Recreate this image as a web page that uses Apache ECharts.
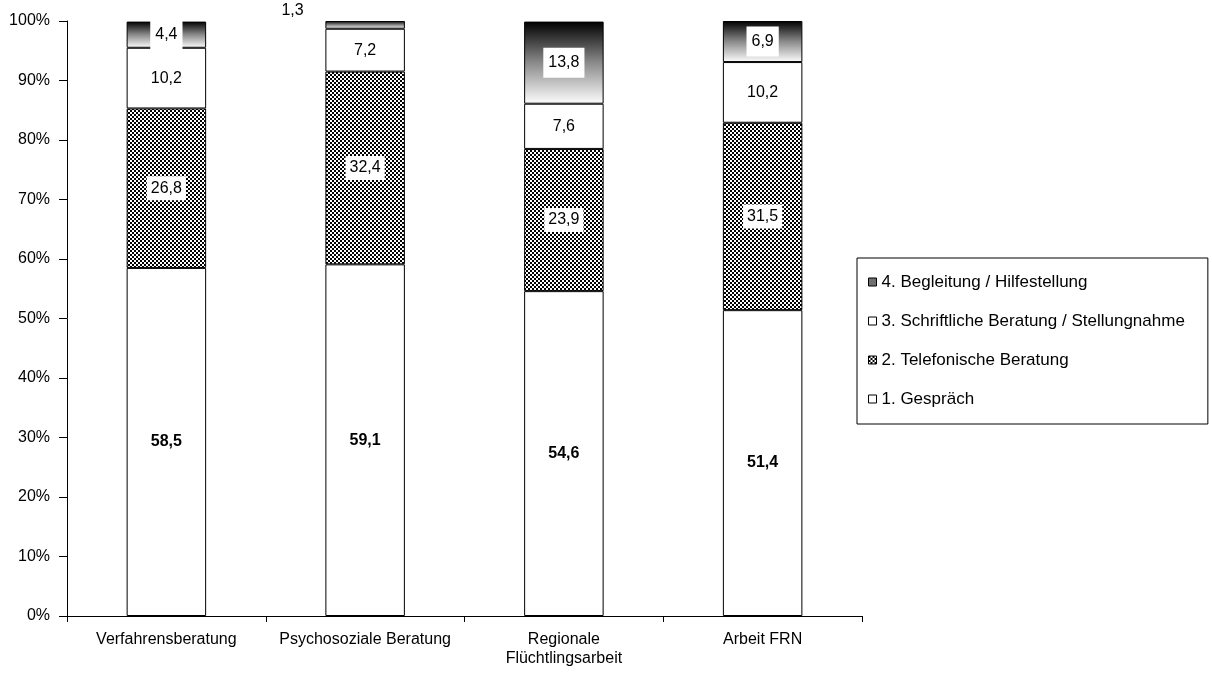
<!DOCTYPE html>
<html>
<head>
<meta charset="utf-8">
<script src="https://cdn.jsdelivr.net/npm/echarts@6/dist/echarts.min.js"></script>
<style>
  html, body { margin: 0; padding: 0; background: #fff; }
  #chart { width: 1212px; height: 673px; }
</style>
</head>
<body>
<div id="chart"></div>
<script>
// Beratungsarten je Arbeitsbereich, Anteile in Prozent
const categories = ['Verfahrensberatung', 'Psychosoziale Beratung', 'Regionale\nFlüchtlingsarbeit', 'Arbeit FRN'];
const gespraech = [58.5, 59.1, 54.6, 51.4];
const telefonisch = [26.8, 32.4, 23.9, 31.5];
const schriftlich = [10.2, 7.2, 7.6, 10.2];
const begleitung = [4.4, 1.3, 13.8, 6.9];
const yTicks = [0, 10, 20, 30, 40, 50, 60, 70, 80, 90, 100];

const FONT = 'Liberation Sans, Arial, sans-serif';

// checkerboard fill for the telephone segment
function checkerCanvas() {
  const c = document.createElement('canvas');
  c.width = 4; c.height = 4;
  const g = c.getContext('2d');
  g.fillStyle = '#fff';
  g.fillRect(0, 0, 4, 4);
  g.fillStyle = '#000';
  g.fillRect(0, 0, 2, 2);
  g.fillRect(2, 2, 2, 2);
  return c;
}
const checker = { image: checkerCanvas(), repeat: 'repeat' };
const fade = new echarts.graphic.LinearGradient(0, 0, 0, 1, [
  { offset: 0, color: '#000' },
  { offset: 0.5, color: '#8a8a8a' },
  { offset: 1, color: '#fdfdfd' }
]);

const fmt = v => v.toFixed(1).replace('.', ',');

function valueLabel(bold, pad) {
  return {
    show: true,
    position: 'inside',
    formatter: p => fmt(p.value),
    color: '#000',
    fontFamily: FONT,
    fontSize: 16,
    fontWeight: bold ? 'bold' : 'normal',
    backgroundColor: '#fff',
    padding: pad
  };
}

const barWidth = '40%';
const border = { borderColor: '#000', borderWidth: 1 };

const chart = echarts.init(document.getElementById('chart'), null, { renderer: 'canvas' });
chart.setOption({
  animation: false,
  backgroundColor: '#fff',
  grid: { left: 67, right: 350, top: 21, bottom: 57, containLabel: false },
  legend: {
    orient: 'vertical',
    left: 857,
    top: 258,
    padding: [15, 23, 16, 11],
    itemGap: 21,
    itemWidth: 8,
    itemHeight: 8,
    borderColor: '#000',
    borderWidth: 1,
    textStyle: { fontFamily: FONT, fontSize: 17, color: '#000', lineHeight: 18 },
    data: [
      { name: '4. Begleitung / Hilfestellung', icon: 'rect', itemStyle: { color: '#707070', borderColor: '#000', borderWidth: 1 } },
      { name: '3. Schriftliche Beratung / Stellungnahme', icon: 'rect', itemStyle: { color: '#fff', borderColor: '#000', borderWidth: 1 } },
      { name: '2. Telefonische Beratung', icon: 'rect', itemStyle: { color: checker, borderColor: '#000', borderWidth: 1 } },
      { name: '1. Gespräch', icon: 'rect', itemStyle: { color: '#fff', borderColor: '#000', borderWidth: 1 } }
    ]
  },
  xAxis: {
    type: 'category',
    data: categories,
    axisLine: { lineStyle: { color: '#000', width: 1 } },
    axisTick: { show: true, interval: 0, length: 6, inside: false, lineStyle: { color: '#000' } },
    axisLabel: { interval: 0, color: '#000', fontFamily: FONT, fontSize: 16, lineHeight: 19, margin: 14 },
    splitLine: { show: false }
  },
  yAxis: {
    type: 'value',
    min: 0,
    max: 100,
    interval: 10,
    axisLine: { show: true, lineStyle: { color: '#000', width: 1 } },
    axisTick: { show: true, length: 8, lineStyle: { color: '#000' } },
    axisLabel: {
      color: '#000', fontFamily: FONT, fontSize: 16, margin: 17,
      formatter: v => (yTicks.includes(v) ? v + '%' : '')
    },
    splitLine: { show: false }
  },
  series: [
    {
      name: '1. Gespräch', type: 'bar', stack: 's', barWidth,
      itemStyle: Object.assign({ color: '#fff' }, border),
      label: valueLabel(true, [4, 4]),
      data: gespraech
    },
    {
      name: '2. Telefonische Beratung', type: 'bar', stack: 's', barWidth,
      itemStyle: Object.assign({ color: checker }, border),
      label: valueLabel(false, [4, 4]),
      data: telefonisch
    },
    {
      name: '3. Schriftliche Beratung / Stellungnahme', type: 'bar', stack: 's', barWidth,
      itemStyle: Object.assign({ color: '#fff' }, border),
      label: valueLabel(false, [4, 4]),
      data: schriftlich
    },
    {
      name: '4. Begleitung / Hilfestellung', type: 'bar', stack: 's', barWidth,
      itemStyle: Object.assign({ color: fade }, border),
      label: valueLabel(false, [7, 5]),
      data: begleitung.map(v => v < 3
        ? { value: v, label: { position: [-44, -18], backgroundColor: 'transparent', padding: 0 } }
        : v)
    }
  ]
});
</script>
</body>
</html>
